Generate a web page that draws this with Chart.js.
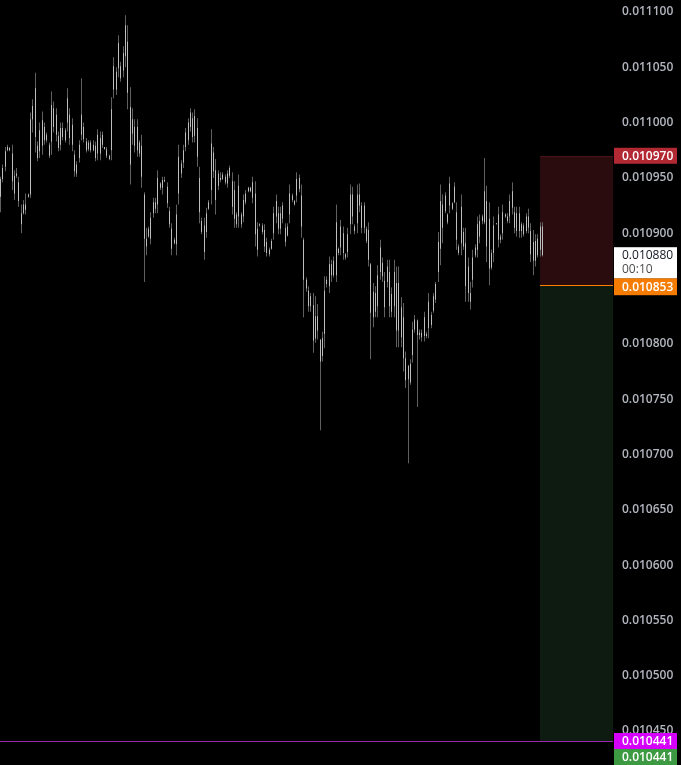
<!DOCTYPE html>
<html>
<head>
<meta charset="utf-8">
<script src="https://cdn.jsdelivr.net/npm/chart.js@4"></script>
<style>
  html, body { margin: 0; padding: 0; background: #000; }
  #wrap { width: 681px; height: 765px; position: relative; }
</style>
</head>
<body>
<div id="wrap"><canvas id="priceChart"></canvas></div>
<script>
// OHLC bars, oldest first
let opens = [
0.010933,0.010949,0.010960,0.010975,0.010977,0.010972,0.010936,0.010952,0.010946,0.010908,
0.010918,0.010926,0.010933,0.010935,0.011003,0.011031,0.010968,0.010974,0.011002,0.010996,
0.010984,0.010970,0.010983,0.011013,0.011007,0.010977,0.010980,0.010995,0.010984,0.011000,
0.011007,0.010998,0.010971,0.010954,0.010968,0.010989,0.010996,0.010983,0.010976,0.010982,
0.010975,0.010979,0.010972,0.010986,0.010980,0.010978,0.010976,0.010970,0.010975,0.011030,
0.011046,0.011049,0.011051,0.011047,0.011060,0.011073,0.011014,0.010990,0.010996,0.010996,
0.010982,0.010979,0.010935,0.010895,0.010897,0.010895,0.010918,0.010928,0.010926,0.010945,
0.010941,0.010948,0.010942,0.010920,0.010904,0.010891,0.010890,0.010936,0.010954,0.010964,
0.010978,0.010984,0.010996,0.011004,0.010988,0.010995,0.010950,0.010911,0.010907,0.010901,
0.010922,0.010939,0.010973,0.010957,0.010943,0.010950,0.010949,0.010951,0.010945,0.010952,
0.010947,0.010939,0.010908,0.010915,0.010917,0.010915,0.010928,0.010938,0.010941,0.010932,
0.010936,0.010904,0.010907,0.010907,0.010903,0.010892,0.010881,0.010886,0.010900,0.010915,
0.010918,0.010904,0.010925,0.010905,0.010898,0.010917,0.010934,0.010929,0.010934,0.010950,
0.010934,0.010894,0.010858,0.010848,0.010834,0.010835,0.010805,0.010825,0.010804,0.010789,
0.010809,0.010854,0.010852,0.010872,0.010862,0.010862,0.010886,0.010887,0.010900,0.010881,
0.010883,0.010908,0.010935,0.010906,0.010909,0.010935,0.010925,0.010905,0.010904,0.010903,
0.010872,0.010824,0.010846,0.010834,0.010865,0.010873,0.010857,0.010856,0.010865,0.010829,
0.010865,0.010855,0.010812,0.010833,0.010824,0.010787,0.010768,0.010765,0.010790,0.010813,
0.010821,0.010808,0.010810,0.010807,0.010809,0.010814,0.010826,0.010830,0.010840,0.010865,
0.010886,0.010926,0.010920,0.010917,0.010925,0.010927,0.010928,0.010919,0.010888,0.010891,
0.010901,0.010891,0.010870,0.010846,0.010858,0.010880,0.010885,0.010897,0.010911,0.010910,
0.010929,0.010913,0.010869,0.010882,0.010908,0.010917,0.010894,0.010900,0.010917,0.010915,
0.010915,0.010938,0.010919,0.010902,0.010918,0.010902,0.010907,0.010902,0.010915,0.010902,
0.010875,0.010893,0.010880,0.010885,0.010906
];
let highs = [
0.010951,0.010962,0.010978,0.010980,0.010978,0.010980,0.010957,0.010959,0.010951,0.010926,
0.010930,0.010936,0.010936,0.011009,0.011021,0.011045,0.010983,0.011000,0.011010,0.011000,
0.010991,0.010982,0.011028,0.011019,0.011013,0.010992,0.011000,0.011000,0.010995,0.011031,
0.011013,0.011004,0.010975,0.010965,0.010984,0.011040,0.011000,0.010986,0.010984,0.010984,
0.010984,0.010983,0.010994,0.010992,0.010992,0.010978,0.010978,0.010971,0.011023,0.011059,
0.011050,0.011079,0.011055,0.011069,0.011097,0.011088,0.011032,0.011013,0.011003,0.011003,
0.010984,0.010989,0.010937,0.010905,0.010906,0.010919,0.010932,0.010932,0.010957,0.010946,
0.010951,0.010951,0.010946,0.010924,0.010909,0.010896,0.010926,0.010980,0.010966,0.010980,
0.010995,0.011004,0.011013,0.011009,0.011012,0.011004,0.010960,0.010914,0.010914,0.010923,
0.010930,0.010994,0.010978,0.010967,0.010957,0.010955,0.010955,0.010953,0.010957,0.010961,
0.010955,0.010947,0.010919,0.010953,0.010919,0.010935,0.010939,0.010942,0.010942,0.010951,
0.010947,0.010910,0.010909,0.010909,0.010908,0.010896,0.010887,0.010895,0.010924,0.010935,
0.010924,0.010924,0.010928,0.010909,0.010909,0.010944,0.010936,0.010930,0.010955,0.010953,
0.010944,0.010896,0.010860,0.010852,0.010846,0.010846,0.010843,0.010836,0.010804,0.010811,
0.010861,0.010861,0.010879,0.010876,0.010879,0.010926,0.010887,0.010912,0.010906,0.010882,
0.010905,0.010944,0.010942,0.010908,0.010944,0.010945,0.010928,0.010928,0.010906,0.010910,
0.010873,0.010855,0.010852,0.010871,0.010894,0.010878,0.010865,0.010876,0.010876,0.010851,
0.010876,0.010870,0.010870,0.010842,0.010837,0.010793,0.010781,0.010786,0.010820,0.010826,
0.010822,0.010813,0.010813,0.010829,0.010811,0.010846,0.010829,0.010846,0.010856,0.010901,
0.010944,0.010935,0.010937,0.010918,0.010951,0.010928,0.010946,0.010928,0.010890,0.010935,
0.010905,0.010905,0.010878,0.010856,0.010885,0.010890,0.010915,0.010917,0.010917,0.010968,
0.010943,0.010928,0.010885,0.010915,0.010909,0.010924,0.010899,0.010926,0.010918,0.010918,
0.010935,0.010946,0.010924,0.010924,0.010924,0.010910,0.010909,0.010918,0.010922,0.010909,
0.010903,0.010899,0.010899,0.010910,0.010910
];
let lows = [
0.010919,0.010946,0.010956,0.010974,0.010974,0.010939,0.010930,0.010950,0.010924,0.010900,
0.010917,0.010917,0.010932,0.010932,0.010991,0.010973,0.010965,0.010968,0.010971,0.010980,
0.010982,0.010968,0.010971,0.010991,0.010983,0.010974,0.010975,0.010984,0.010982,0.010992,
0.010980,0.010974,0.010951,0.010951,0.010964,0.010984,0.010982,0.010973,0.010974,0.010973,
0.010974,0.010965,0.010966,0.010966,0.010977,0.010976,0.010968,0.010966,0.010966,0.011022,
0.011025,0.011041,0.011037,0.011041,0.011050,0.011012,0.010944,0.010980,0.010973,0.010969,
0.010969,0.010941,0.010856,0.010880,0.010896,0.010890,0.010914,0.010918,0.010918,0.010939,
0.010935,0.010946,0.010923,0.010905,0.010880,0.010890,0.010880,0.010926,0.010950,0.010959,
0.010974,0.010980,0.010992,0.010982,0.010982,0.010960,0.010909,0.010899,0.010876,0.010896,
0.010921,0.010926,0.010950,0.010917,0.010939,0.010946,0.010948,0.010944,0.010941,0.010950,
0.010917,0.010905,0.010905,0.010905,0.010905,0.010910,0.010926,0.010937,0.010937,0.010927,
0.010888,0.010879,0.010906,0.010899,0.010883,0.010879,0.010879,0.010885,0.010894,0.010909,
0.010899,0.010899,0.010909,0.010888,0.010897,0.010909,0.010928,0.010925,0.010928,0.010937,
0.010896,0.010824,0.010847,0.010829,0.010829,0.010792,0.010801,0.010804,0.010722,0.010784,
0.010796,0.010851,0.010846,0.010856,0.010860,0.010856,0.010880,0.010880,0.010876,0.010876,
0.010878,0.010899,0.010908,0.010899,0.010900,0.010919,0.010900,0.010900,0.010891,0.010870,
0.010786,0.010815,0.010824,0.010824,0.010858,0.010856,0.010824,0.010851,0.010824,0.010824,
0.010824,0.010797,0.010797,0.010797,0.010775,0.010760,0.010692,0.010763,0.010783,0.010810,
0.010743,0.010804,0.010802,0.010802,0.010805,0.010805,0.010814,0.010828,0.010837,0.010856,
0.010871,0.010891,0.010918,0.010908,0.010918,0.010921,0.010927,0.010885,0.010880,0.010880,
0.010885,0.010838,0.010838,0.010831,0.010851,0.010878,0.010878,0.010891,0.010908,0.010908,
0.010874,0.010853,0.010867,0.010874,0.010908,0.010887,0.010891,0.010894,0.010914,0.010909,
0.010909,0.010917,0.010900,0.010897,0.010896,0.010896,0.010897,0.010900,0.010900,0.010874,
0.010862,0.010870,0.010878,0.010879,0.010879
];
let closes = [
0.010949,0.010959,0.010974,0.010978,0.010975,0.010947,0.010952,0.010954,0.010929,0.010918,
0.010926,0.010921,0.010935,0.011003,0.011015,0.010987,0.010979,0.010993,0.010979,0.010984,
0.010989,0.010980,0.011016,0.010996,0.010989,0.010988,0.010995,0.010987,0.010993,0.011022,
0.010986,0.010980,0.010956,0.010962,0.010980,0.011007,0.010985,0.010975,0.010982,0.010975,
0.010980,0.010968,0.010989,0.010972,0.010989,0.010976,0.010970,0.010967,0.011012,0.011051,
0.011030,0.011072,0.011040,0.011063,0.011088,0.011027,0.010962,0.011003,0.010979,0.010975,
0.010972,0.010951,0.010895,0.010888,0.010904,0.010914,0.010928,0.010922,0.010950,0.010941,
0.010948,0.010947,0.010927,0.010908,0.010886,0.010894,0.010917,0.010969,0.010963,0.010975,
0.010991,0.011000,0.011009,0.010987,0.011006,0.010969,0.010919,0.010901,0.010883,0.010918,
0.010928,0.010981,0.010956,0.010930,0.010954,0.010948,0.010953,0.010946,0.010954,0.010959,
0.010924,0.010913,0.010917,0.010943,0.010908,0.010930,0.010936,0.010941,0.010938,0.010946,
0.010899,0.010885,0.010908,0.010901,0.010888,0.010882,0.010885,0.010893,0.010918,0.010929,
0.010904,0.010918,0.010913,0.010892,0.010906,0.010936,0.010930,0.010926,0.010949,0.010940,
0.010906,0.010858,0.010850,0.010834,0.010843,0.010803,0.010825,0.010812,0.010784,0.010805,
0.010848,0.010858,0.010872,0.010862,0.010875,0.010910,0.010882,0.010906,0.010882,0.010878,
0.010899,0.010935,0.010915,0.010902,0.010935,0.010925,0.010905,0.010925,0.010893,0.010876,
0.010828,0.010847,0.010829,0.010862,0.010887,0.010861,0.010833,0.010870,0.010834,0.010845,
0.010834,0.010812,0.010855,0.010806,0.010787,0.010767,0.010780,0.010782,0.010813,0.010822,
0.010808,0.010810,0.010806,0.010824,0.010807,0.010838,0.010817,0.010843,0.010854,0.010892,
0.010929,0.010905,0.010934,0.010910,0.010945,0.010922,0.010942,0.010894,0.010882,0.010924,
0.010888,0.010852,0.010846,0.010838,0.010878,0.010887,0.010908,0.010911,0.010915,0.010938,
0.010888,0.010868,0.010882,0.010907,0.010909,0.010894,0.010897,0.010919,0.010915,0.010911,
0.010929,0.010923,0.010905,0.010918,0.010902,0.010908,0.010899,0.010915,0.010905,0.010881,
0.010892,0.010875,0.010895,0.010906,0.010880
];

// price scale
let tickValues = [0.011100, 0.011050, 0.011000, 0.010950, 0.010900, 0.010850, 0.010800,
                  0.010750, 0.010700, 0.010650, 0.010600, 0.010550, 0.010500, 0.010450];
let priceMin = 0.0104193;
let priceMax = 0.0111108;
let barMin = -0.2;
let barMax = 264.5;

// short position tool + last price
let positionStart = 233;
let stopPrice = 0.010970;
let entryPrice = 0.010853;
let targetPrice = 0.010441;
let lastPrice = 0.010880;
let countdown = "00:10";

const FAMILY = "'Open Sans'";
const FONT = "600 12px " + FAMILY;

function drawTag(ctx, x, top, h, bg, text, color) {
    ctx.fillStyle = bg;
    ctx.fillRect(x, top, 63, h);
    ctx.fillStyle = color;
    ctx.font = FONT;
    ctx.textBaseline = "middle";
    ctx.textAlign = "left";
    ctx.fillText(text, x + 8, top + h / 2 + 0.5);
}

const positionTool = {
    id: "positionTool",
    beforeDatasetsDraw(chart) {
        const { ctx, chartArea: a, scales: { x, y } } = chart;
        // keep the 1px bars on whole pixels
        chart.data.datasets.forEach((d, i) => {
            chart.getDatasetMeta(i).data.forEach(el => { el.x = Math.floor(el.x) + 0.5; });
        });
        const left = Math.round(x.getPixelForValue(positionStart));
        const yStop = Math.round(y.getPixelForValue(stopPrice));
        const yEntry = Math.round(y.getPixelForValue(entryPrice));
        const yTarget = Math.round(y.getPixelForValue(targetPrice));
        ctx.save();
        ctx.fillStyle = "#2a0b0e";
        ctx.fillRect(left, yStop, a.right - left, yEntry - yStop);
        ctx.fillStyle = "#0e1b11";
        ctx.fillRect(left, yEntry, a.right - left, yTarget - yEntry);
        ctx.fillStyle = "#4a1117";
        ctx.fillRect(left, yStop, a.right - left, 1);
        ctx.restore();
    },
    afterDraw(chart) {
        const { ctx, chartArea: a, scales: { x, y } } = chart;
        const lx = a.right + 1;
        const left = Math.round(x.getPixelForValue(positionStart));
        ctx.save();
        // entry line and target alert line
        ctx.fillStyle = "#ff7f00";
        ctx.fillRect(left, Math.round(y.getPixelForValue(entryPrice)), a.right - left, 1);
        ctx.fillStyle = "#9c27b0";
        ctx.fillRect(a.left, Math.round(y.getPixelForValue(targetPrice)), a.right - a.left, 1);

        const yStop = y.getPixelForValue(stopPrice);
        drawTag(ctx, lx, yStop - 8, 16, "#b22833", stopPrice.toFixed(6), "#ffffff");

        const yEntry = y.getPixelForValue(entryPrice);
        const entryTop = yEntry - 7;
        drawTag(ctx, lx, entryTop, 17, "#f57c00", entryPrice.toFixed(6), "#ffffff");

        // last price + countdown sits on top of the entry tag
        ctx.fillStyle = "#ffffff";
        ctx.fillRect(lx, entryTop - 31, 63, 31);
        ctx.font = "12px " + FAMILY;
        ctx.textBaseline = "middle";
        ctx.fillStyle = "#131722";
        ctx.fillText(lastPrice.toFixed(6), lx + 8, entryTop - 23);
        ctx.fillStyle = "#4c4c4c";
        ctx.fillText(countdown, lx + 8, entryTop - 9);

        const yTarget = y.getPixelForValue(targetPrice);
        drawTag(ctx, lx, yTarget - 8, 16, "#d500f9", targetPrice.toFixed(6), "#ffffff");
        drawTag(ctx, lx, yTarget + 8, 16, "#3d9a42", targetPrice.toFixed(6), "#ffffff");
        ctx.restore();
    }
};

let bodies = opens.map((o, i) => ({ x: i, y: [o, closes[i]] }));
let wicks = highs.map((h, i) => ({ x: i, y: [lows[i], h] }));

new Chart(document.getElementById("priceChart"), {
    type: "bar",
    data: {
        datasets: [
            { label: "body", data: bodies, backgroundColor: "#bdbdbd", barThickness: 1,
              grouped: false, inflateAmount: 0, borderWidth: 0, order: 0, minBarLength: 1 },
            { label: "wick", data: wicks, backgroundColor: "#606060", barThickness: 1,
              grouped: false, inflateAmount: 0, borderWidth: 0, order: 1, minBarLength: 1 }
        ]
    },
    options: {
        responsive: true,
        maintainAspectRatio: false,
        animation: false,
        layout: { padding: 0 },
        plugins: { legend: { display: false }, tooltip: { enabled: false } },
        scales: {
            x: { type: "linear", min: barMin, max: barMax, display: false, offset: false },
            y: {
                position: "right",
                min: priceMin,
                max: priceMax,
                grid: { display: false, drawTicks: false },
                border: { display: false },
                afterBuildTicks: s => { s.ticks = tickValues.map(v => ({ value: v })); },
                afterFit: s => { s.width = 68; s.paddingTop = 0; s.paddingBottom = 0; },
                ticks: {
                    padding: 9,
                    color: "#b2b5be",
                    font: { family: FAMILY, size: 12, weight: 600 },
                    callback: v => Number(v).toFixed(6)
                }
            }
        }
    },
    plugins: [positionTool]
});
</script>
</body>
</html>
